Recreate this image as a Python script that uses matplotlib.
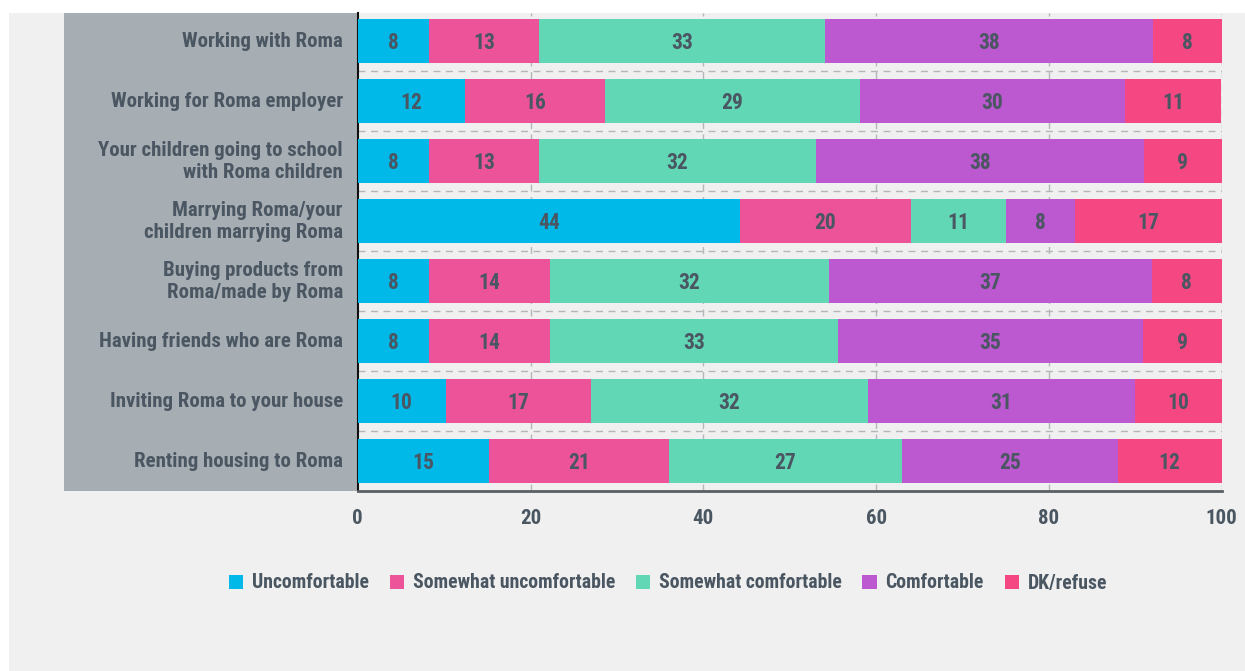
import matplotlib
matplotlib.use("Agg")
import matplotlib.pyplot as plt
import matplotlib.font_manager as fm
from matplotlib.patches import Rectangle, Patch
import numpy as np

categories = [
    "Working with Roma",
    "Working for Roma employer",
    "Your children going to school\nwith Roma children",
    "Marrying Roma/your\nchildren marrying Roma",
    "Buying products from\nRoma/made by Roma",
    "Having friends who are Roma",
    "Inviting Roma to your house",
    "Renting housing to Roma",
]
series_names = ["Uncomfortable", "Somewhat uncomfortable", "Somewhat comfortable",
                "Comfortable", "DK/refuse"]

# segment widths
uncomfortable = [8.25, 12.42, 8.25, 44.2, 8.25, 8.25, 10.18, 15.2]
somewhat_unc = [12.73, 16.2, 12.73, 19.83, 14.0, 14.0, 16.82, 20.83]
somewhat_com = [33.1, 29.52, 32.06, 10.99, 32.3, 33.33, 32.06, 26.97]
comfortable = [37.97, 30.66, 37.93, 7.99, 37.35, 35.3, 30.9, 24.96]
dk_refuse = [7.95, 11.1, 9.03, 16.98, 8.1, 9.1, 10.03, 12.04]

# printed labels
lab_unc = [8, 12, 8, 44, 8, 8, 10, 15]
lab_sunc = [13, 16, 13, 20, 14, 14, 17, 21]
lab_scom = [33, 29, 32, 11, 32, 33, 32, 27]
lab_com = [38, 30, 38, 8, 37, 35, 31, 25]
lab_dk = [8, 11, 9, 17, 8, 9, 10, 12]

xticks = [0, 20, 40, 60, 80, 100]

colors = ["#00b9e8", "#ec5398", "#62d7b5", "#bc58d0", "#f54882"]
text_col = "#4a5662"
bg = "#eff0ef"
panel = "#a7aeb3"

# pick a condensed bold font if one is installed
prefs = ["liberationsansnarrow-bold.", "robotocondensed-bold.", "notosans-condensedbold.",
         "opensans-condensedbold.", "dejavusanscondensed-bold."]
font_path = None
paths = [f.fname for f in fm.fontManager.ttflist]
for p in prefs:
    for fp in paths:
        if p in fp.lower().replace("_", "-").split("/")[-1]:
            font_path = fp
            break
    if font_path:
        break
if font_path is None:
    for fp in paths:
        low = fp.lower()
        if ("condensed" in low or "narrow" in low) and "bold" in low and "extra" not in low \
                and "semi" not in low and "italic" not in low:
            font_path = fp
            break


def fp_(size):
    if font_path:
        return fm.FontProperties(fname=font_path, size=size)
    return fm.FontProperties(family="DejaVu Sans", weight="bold", size=size)


W, H = 1245, 671
fig = plt.figure(figsize=(W / 100, H / 100), dpi=100)
fig.patch.set_facecolor("white")


def fx(px):
    return px / W


def fy(py):
    return 1 - py / H


fig.patches.append(Rectangle((fx(9), 0), fx(W - 9), fy(13), transform=fig.transFigure,
                             facecolor=bg, edgecolor="none", zorder=-2))
fig.patches.append(Rectangle((fx(64), fy(491)), fx(357.7 - 64), (491 - 13) / H,
                             transform=fig.transFigure, facecolor=panel,
                             edgecolor="none", zorder=-1))

ax = fig.add_axes([fx(357.7), fy(491), 864 / W, 478 / H])
ax.set_zorder(2)
ax.set_facecolor(bg)

all_vals = [uncomfortable, somewhat_unc, somewhat_com, comfortable, dk_refuse]
all_labs = [lab_unc, lab_sunc, lab_scom, lab_com, lab_dk]
y = np.arange(len(categories))
left = np.zeros(len(categories))
for vals, labs, col, name in zip(all_vals, all_labs, colors, series_names):
    vals = np.array(vals)
    ax.barh(y, vals, left=left, height=0.733, color=col, edgecolor="none",
            label=name, zorder=3)
    for yi, (l, v, lb) in enumerate(zip(left, vals, labs)):
        ax.text(l + v / 2, yi + 0.03, str(lb), ha="center", va="center",
                fontproperties=fp_(15.5), color=text_col, zorder=4)
    left = left + vals

ax.set_xlim(0, 100)
ax.set_ylim(7.5, -0.467)

for xv in xticks[1:]:
    ax.axvline(xv, color="#b3b7ba", lw=1, ls=(0, (5, 4)), zorder=1)
for yv in np.arange(0.5, 7.5, 1):
    ax.axhline(yv, color="#b3b7ba", lw=1, ls=(0, (5, 4)), zorder=1)

ax.set_xticks(xticks)
ax.set_xticklabels([str(t) for t in xticks], color=text_col)
for t in ax.get_xticklabels():
    t.set_fontproperties(fp_(15))
ax.tick_params(axis="x", length=0, pad=13)
ax.set_yticks([])
for s in ["top", "right"]:
    ax.spines[s].set_visible(False)
ax.spines["left"].set_color("#111111")
ax.spines["left"].set_linewidth(1.5)
ax.spines["bottom"].set_color("#5a5f63")
ax.spines["bottom"].set_linewidth(2)

for yi, cat in enumerate(categories):
    fig.text(fx(343), fy(41.5 + 60 * yi), cat, ha="right", va="center",
             fontproperties=fp_(15), color=text_col, linespacing=1.25)

handles = [Patch(facecolor=c, edgecolor="none") for c in colors]
leg = fig.legend(handles, series_names, loc="center", bbox_to_anchor=(fx(668), fy(583)),
                 ncol=5, frameon=False, prop=fp_(14.2), handlelength=0.72, handleheight=0.72,
                 handletextpad=0.45, columnspacing=1.05)
for t in leg.get_texts():
    t.set_color(text_col)

fig.savefig("out.png", dpi=100, facecolor=fig.get_facecolor())
